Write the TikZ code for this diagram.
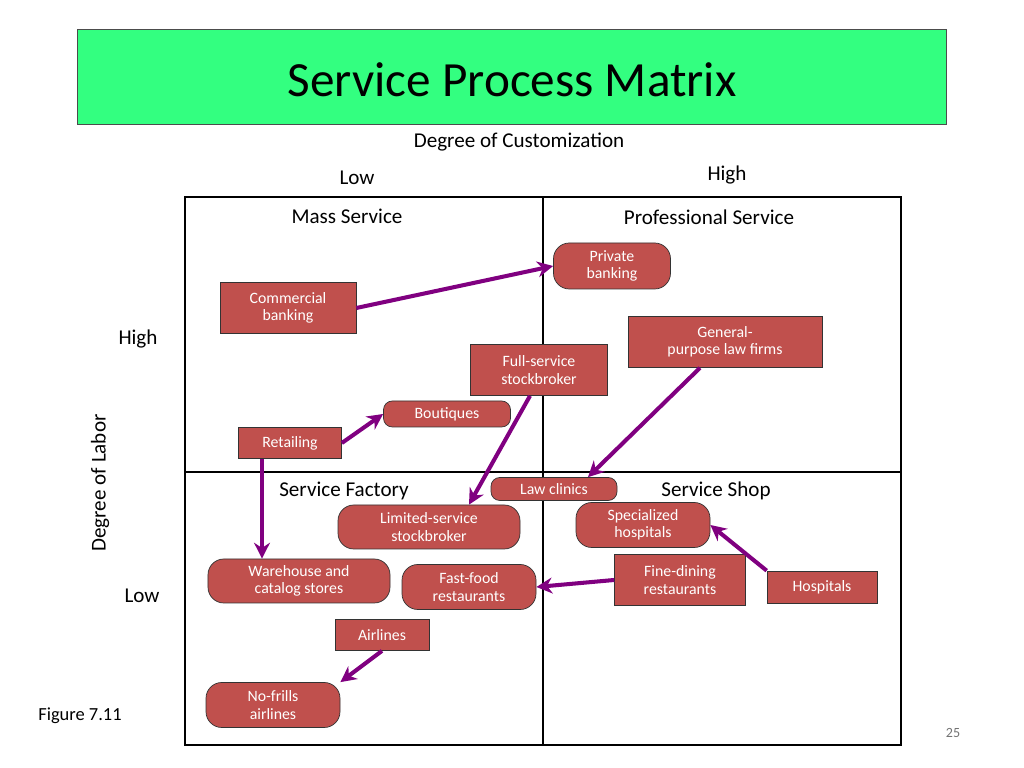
\documentclass[tikz,border=0pt]{standalone}
\usepackage{fontspec}
\setmainfont{Carlito}
\usetikzlibrary{arrows.meta}
\definecolor{titlegreen}{HTML}{33FF80}
\definecolor{boxred}{HTML}{C0504D}
\definecolor{arrowpurple}{HTML}{800080}
\tikzset{
	sq/.style={draw=black!80, fill=boxred, align=center, font=\fontsize{9}{10}\selectfont, text=white, inner sep=0pt},
	rd/.style={sq, rounded corners=9pt},
	mv/.style={draw=arrowpurple, line width=2.3pt, -{Stealth[length=9pt,width=9pt]}},
	lbl/.style={font=\fontsize{12}{14}\selectfont}
}
\begin{document}
\begin{tikzpicture}[x=0.2mm,y=-0.2mm]
			%%%%% START %%%%%
			\useasboundingbox (0,0) rectangle (1024,768);
			
			\draw[fill=titlegreen, draw=black!70] (77,29) rectangle (946,124);
			\node[font=\fontsize{28}{30}\selectfont] (title) at (512,80) {Service Process Matrix};
			
			\node[lbl] (cust) at (519,142) {Degree of Customization};
			\node[lbl] (clow) at (357,178) {Low};
			\node[lbl] (chigh) at (727,175) {High};
			\node[lbl] (lhigh) at (138,339) {High};
			\node[lbl] (llow) at (142,596) {Low};
			\node[lbl, rotate=90] (labor) at (100,483) {Degree of Labor};
			\node[font=\fontsize{10.5}{12}\selectfont] (fig) at (80,716) {Figure 7.11};
			\node[font=\fontsize{8}{9}\selectfont, text=black!55] (page) at (953,733) {25};
			
			\draw[line width=1.2pt] (185,197) rectangle (901,745);
			\draw[line width=1.2pt] (543,197) -- (543,745);
			\draw[line width=1.2pt] (185,472) -- (901,472);
			
			\node[lbl] (mass) at (347,216) {Mass Service};
			\node[lbl] (prof) at (709,217) {Professional Service};
			\node[lbl] (fact) at (344,491) {Service Factory};
			\node[lbl] (shop) at (716,491) {Service Shop};
			
			\node[rd, minimum width=23.4mm, minimum height=9.2mm] (pb) at (612,266) {Private\\banking};
			\node[sq, minimum width=27.2mm, minimum height=10.2mm] (cb) at (288,308) {Commercial\\banking};
			\node[sq, minimum width=38.8mm, minimum height=10.2mm] (gp) at (725,342) {General-\\purpose law firms};
			\node[sq, minimum width=27.4mm, minimum height=10.2mm] (fs) at (539,370) {Full-service\\stockbroker};
			\node[rd, minimum width=25.4mm, minimum height=5.2mm, rounded corners=5pt] (bt) at (447,414) {Boutiques};
			\node[sq, minimum width=20.6mm, minimum height=6.2mm] (rt) at (290,443) {Retailing};
			\node[rd, minimum width=25.2mm, minimum height=4.6mm, rounded corners=5pt] (lc) at (554,489) {Law clinics};
			\node[rd, minimum width=36.4mm, minimum height=8.8mm] (ls) at (429,527) {Limited-service\\stockbroker};
			\node[rd, minimum width=26.8mm, minimum height=9mm] (sh) at (643,525) {Specialized\\hospitals};
			\node[rd, minimum width=36.4mm, minimum height=8.8mm] (wh) at (299,581) {Warehouse and\\catalog stores};
			\node[rd, minimum width=26.8mm, minimum height=9mm] (ff) at (469,587) {Fast-food\\restaurants};
			\node[sq, minimum width=26.2mm, minimum height=10.2mm] (fd) at (680,580) {Fine-dining\\restaurants};
			\node[sq, minimum width=22mm, minimum height=6.4mm] (hs) at (822,587) {Hospitals};
			\node[sq, minimum width=18.8mm, minimum height=6.2mm] (al) at (382,635) {Airlines};
			\node[rd, minimum width=26.8mm, minimum height=9mm] (nf) at (273,705) {No-frills\\airlines};
			
			\draw[mv] (cb.east) -- (pb.west);
			\draw[mv] (rt.east) -- (bt.west);
			\draw[mv] (rt.south -| 262,0) -- (wh.north -| 262,0);
			\draw[mv] (fs.south -| 530,0) -- (ls.north -| 469,0);
			\draw[mv] (gp.south -| 700,0) -- (lc.north -| 588,0);
			\draw[mv] (hs.north west) -- (sh.east);
			\draw[mv] (fd.west) -- (ff.east);
			\draw[mv] (al.south) -- (nf.north east);
			%%%%% END %%%%%
\end{tikzpicture}
\end{document}
